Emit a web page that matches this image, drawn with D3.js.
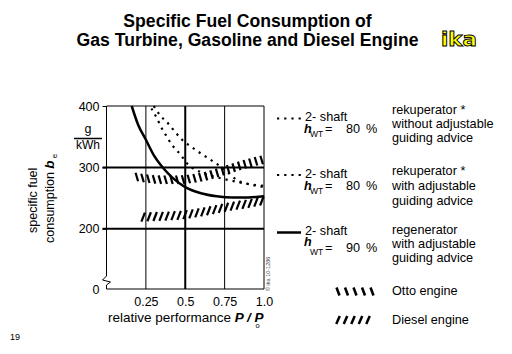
<!DOCTYPE html>
<html lang="en">
<head>
<meta charset="utf-8">
<title>Specific Fuel Consumption</title>
<script src="https://cdn.jsdelivr.net/npm/d3@7"></script>
<style>
body { margin: 0; background: #fff; }
svg text { font-family: "Liberation Sans", Arial, sans-serif; fill: #000; }
.tick text { font-size: 12.5px; }
.leg { font-size: 12.7px; }
</style>
</head>
<body>
<svg width="512" height="354"></svg>
<script>
// values (P/P0 vs g/kWh)
var pOuter  = [0.30, 0.34, 0.39, 0.435, 0.48, 0.53, 0.58, 0.645, 0.71, 0.77, 0.83, 0.90, 1.0];
var beOuter = [400, 385, 372, 358, 345, 335, 326, 315, 304, 292, 279, 273, 268];
var pInner  = [0.285, 0.32, 0.35, 0.383, 0.414, 0.446, 0.478, 0.51, 0.6, 0.7, 0.8, 0.9, 1.0];
var beInner = [396, 380, 364, 350, 337, 328, 318, 307, 292, 284, 278, 273, 270];
var pRegen  = [0.16, 0.2, 0.25, 0.3, 0.36, 0.42, 0.5, 0.6, 0.7, 0.8, 0.9, 1.0];
var beRegen = [400, 370, 345, 320, 299, 283, 268, 258, 253, 251, 251, 253];
var pOtto   = [0.18, 0.25, 0.35, 0.45, 0.55, 0.65, 0.75, 0.85, 0.95, 1.0];
var beOtto  = [285, 282, 280, 280, 282, 287, 295, 303, 310, 313];
var pDiesel  = [0.22, 0.3, 0.4, 0.5, 0.6, 0.7, 0.8, 0.9, 1.0];
var beDiesel = [219, 220, 221, 223, 227, 232, 237, 241, 246];

var xTicks = [0.25, 0.5, 0.75, 1.0];
var xTickLabels = ["0.25", "0.5", "0.75", "1.0"];
var yTicks = [0, 200, 300, 400];
var yGrid = [200, 300];

var svg = d3.select("svg");

var x = d3.scaleLinear().domain([0, 1]).range([106.5, 264]);
// broken axis: everything below ~100 is squeezed onto the bottom line
var y = d3.scaleLinear().domain([0, 102, 400]).range([289, 289, 106]);

// title
svg.append("text").attr("x", 247.5).attr("y", 27).attr("text-anchor", "middle")
   .style("font-size", "17.6px").style("font-weight", "bold")
   .text("Specific Fuel Consumption of");
svg.append("text").attr("x", 247.5).attr("y", 45.5).attr("text-anchor", "middle")
   .style("font-size", "17.6px").style("font-weight", "bold")
   .text("Gas Turbine, Gasoline and Diesel Engine");
svg.append("text").attr("x", 441).attr("y", 45.5).attr("textLength", 36)
   .attr("lengthAdjust", "spacingAndGlyphs")
   .style("font-family", "'DejaVu Sans', sans-serif").style("font-size", "19px")
   .style("font-weight", "bold").style("fill", "#ffff00")
   .style("stroke", "#000").style("stroke-width", 0.9)
   .text("ika");

svg.append("text").attr("x", 10).attr("y", 340).style("font-size", "9px").text("19");

// grid
var g = svg.append("g");
g.selectAll(".hgrid").data(yGrid).enter().append("line")
  .attr("x1", x(0) - 4).attr("x2", x(1))
  .attr("y1", function(d) { return y(d); }).attr("y2", function(d) { return y(d); })
  .attr("stroke", "#000").attr("stroke-width", 2);
g.selectAll(".vgrid").data([0.25, 0.5, 0.75]).enter().append("line")
  .attr("x1", function(d) { return x(d); }).attr("x2", function(d) { return x(d); })
  .attr("y1", y(400)).attr("y2", y(0))
  .attr("stroke", "#000").attr("stroke-width", function(d) { return d == 0.5 ? 2 : 1; });

// frame
g.append("line").attr("x1", x(0)).attr("x2", x(1)).attr("y1", y(400)).attr("y2", y(400)).attr("stroke", "#000");
g.append("line").attr("x1", x(1)).attr("x2", x(1)).attr("y1", y(400)).attr("y2", y(0)).attr("stroke", "#000");

// axes
var yAxis = g.append("g").attr("transform", "translate(" + x(0) + ",0)")
  .call(d3.axisLeft(y).tickValues(yTicks).tickSize(4).tickPadding(2));
yAxis.select(".domain").remove();
yAxis.selectAll(".tick").filter(function(d) { return d == 0; }).select("line").remove();
yAxis.selectAll(".tick text").attr("dx", "-1");

var xAxis = g.append("g").attr("transform", "translate(0," + y(0) + ")")
  .call(d3.axisBottom(x).tickValues(xTicks).tickSize(0).tickPadding(8)
    .tickFormat(function(d, i) { return xTickLabels[i]; }));
xAxis.select(".domain").remove();

g.append("line").attr("x1", x(0)).attr("x2", x(1)).attr("y1", y(0)).attr("y2", y(0)).attr("stroke", "#000");
// left axis with break mark
var x0 = x(0);
g.append("path")
  .attr("d", "M" + x0 + "," + y(400) + "V" + (y(0) - 13) +
             "L" + (x0 - 4) + "," + (y(0) - 9) + "L" + (x0 + 4) + "," + (y(0) - 7) +
             "L" + x0 + "," + (y(0) - 4) + "V" + y(0))
  .attr("fill", "none").attr("stroke", "#000");

// unit fraction
svg.append("text").attr("x", 88).attr("y", 133).attr("text-anchor", "middle").style("font-size", "12.5px").text("g");
svg.append("line").attr("x1", 74).attr("x2", 102).attr("y1", 138.5).attr("y2", 138.5).attr("stroke", "#000").attr("stroke-width", 1.5);
svg.append("text").attr("x", 88).attr("y", 149).attr("text-anchor", "middle").style("font-size", "12px").text("kWh");

// y title
svg.append("text").attr("transform", "translate(37,233) rotate(-90)")
  .style("font-size", "12.5px").text("specific fuel");
var yt = svg.append("text").attr("transform", "translate(54,243) rotate(-90)")
  .style("font-size", "12.5px");
yt.append("tspan").text("consumption ");
yt.append("tspan").style("font-weight", "bold").style("font-style", "italic").style("font-size", "13.5px").text("b");
yt.append("tspan").attr("dy", 3).style("font-size", "8px").text(" e");

// x title
var xt = svg.append("text").attr("x", 108).attr("y", 322).style("font-size", "13.5px");
xt.append("tspan").text("relative performance ");
xt.append("tspan").style("font-weight", "bold").style("font-style", "italic").text("P / P");
xt.append("tspan").attr("dx", -8).attr("dy", 6).style("font-size", "7.5px").text("o");

// curves
var line = d3.line().curve(d3.curveMonotoneX)
  .x(function(d) { return x(d[0]); }).y(function(d) { return y(d[1]); });
function pairs(ps, vs) { return ps.map(function(p, i) { return [p, vs[i]]; }); }

var curves = g.append("g").attr("fill", "none").attr("stroke", "#000");
curves.append("path").attr("d", line(pairs(pOuter, beOuter)))
  .attr("stroke-width", 2.2).attr("stroke-dasharray", "2.2,5");
curves.append("path").attr("d", line(pairs(pInner, beInner)))
  .attr("stroke-width", 2.2).attr("stroke-dasharray", "2.2,5");
curves.append("path").attr("d", line(pairs(pRegen, beRegen)))
  .attr("stroke-width", 2.5);

// hatched bands: short strokes sampled along the band centre line
function hatch(ps, vs, step, h, lean) {
  var tmp = g.append("path").attr("d", line(pairs(ps, vs))).attr("fill", "none");
  var node = tmp.node(), len = node.getTotalLength();
  var grp = g.append("g").attr("stroke", "#000").attr("stroke-width", 2.2);
  for (var s = 2; s < len; s += step) {
    var pt = node.getPointAtLength(s);
    grp.append("line")
      .attr("x1", pt.x - lean / 2).attr("y1", pt.y - h / 2)
      .attr("x2", pt.x + lean / 2).attr("y2", pt.y + h / 2);
  }
  tmp.remove();
}
hatch(pOtto, beOtto, 5.8, 8.5, 2.5);
hatch(pDiesel, beDiesel, 6, 9, -3.5);

// small copyright note
svg.append("text").attr("transform", "translate(270,291) rotate(-90)")
  .style("font-size", "5.5px").style("fill", "#444").text("© ika 10-1286");

// legend
var leg = svg.append("g");
function legendText(xx, yy, str) {
  return leg.append("text").attr("class", "leg").attr("x", xx).attr("y", yy).text(str);
}
function etaRow(yy, subY, valY, val) {
  leg.append("text").attr("x", 304).attr("y", yy).style("font-size", "12.5px")
    .style("font-weight", "bold").style("font-style", "italic").text("h");
  leg.append("text").attr("x", 310).attr("y", subY).style("font-size", "8.5px").text("WT");
  var t = leg.append("text").attr("class", "leg").attr("y", valY);
  t.append("tspan").attr("x", 325).text("=");
  t.append("tspan").attr("x", 346).text(val);
  t.append("tspan").attr("x", 366).text("%");
}
var dotRows = [118.5, 175];
dotRows.forEach(function(yy) {
  leg.append("line").attr("x1", 277).attr("x2", 301).attr("y1", yy).attr("y2", yy)
    .attr("stroke", "#000").attr("stroke-width", 2.2).attr("stroke-dasharray", "2.2,5");
});
leg.append("line").attr("x1", 277).attr("x2", 301).attr("y1", 232.5).attr("y2", 232.5)
  .attr("stroke", "#000").attr("stroke-width", 2.5);

legendText(305, 121, "2- shaft");
etaRow(132.5, 136.5, 132.5, "80");
legendText(392, 114, "rekuperator *");
legendText(392, 128, "without adjustable");
legendText(392, 142, "guiding advice");

legendText(305, 177.5, "2- shaft");
etaRow(189.5, 193.5, 190, "80");
legendText(392, 175, "rekuperator *");
legendText(392, 190, "with adjustable");
legendText(392, 205, "guiding advice");

legendText(305, 235, "2- shaft");
leg.append("text").attr("x", 304).attr("y", 246).style("font-size", "12.5px")
  .style("font-weight", "bold").style("font-style", "italic").text("h");
leg.append("text").attr("x", 310).attr("y", 255).style("font-size", "8.5px").text("WT");
var t3 = leg.append("text").attr("class", "leg").attr("y", 252);
t3.append("tspan").attr("x", 325).text("=");
t3.append("tspan").attr("x", 346).text("90");
t3.append("tspan").attr("x", 366).text("%");
legendText(392, 234, "regenerator");
legendText(392, 247.5, "with adjustable");
legendText(392, 262, "guiding advice");

function legendMarks(x1, yy, n, step, h, lean) {
  var grp = leg.append("g").attr("stroke", "#000").attr("stroke-width", 2.5);
  for (var i = 0; i < n; i++) {
    var cx = x1 + i * step;
    grp.append("line").attr("x1", cx - lean / 2).attr("y1", yy - h / 2)
      .attr("x2", cx + lean / 2).attr("y2", yy + h / 2);
  }
}
legendMarks(338, 291.5, 5, 8.5, 8, 3);
legendText(392, 295, "Otto engine");
legendMarks(338, 320, 5, 7.5, 8, -3.5);
legendText(392, 324, "Diesel engine");
</script>
</body>
</html>
